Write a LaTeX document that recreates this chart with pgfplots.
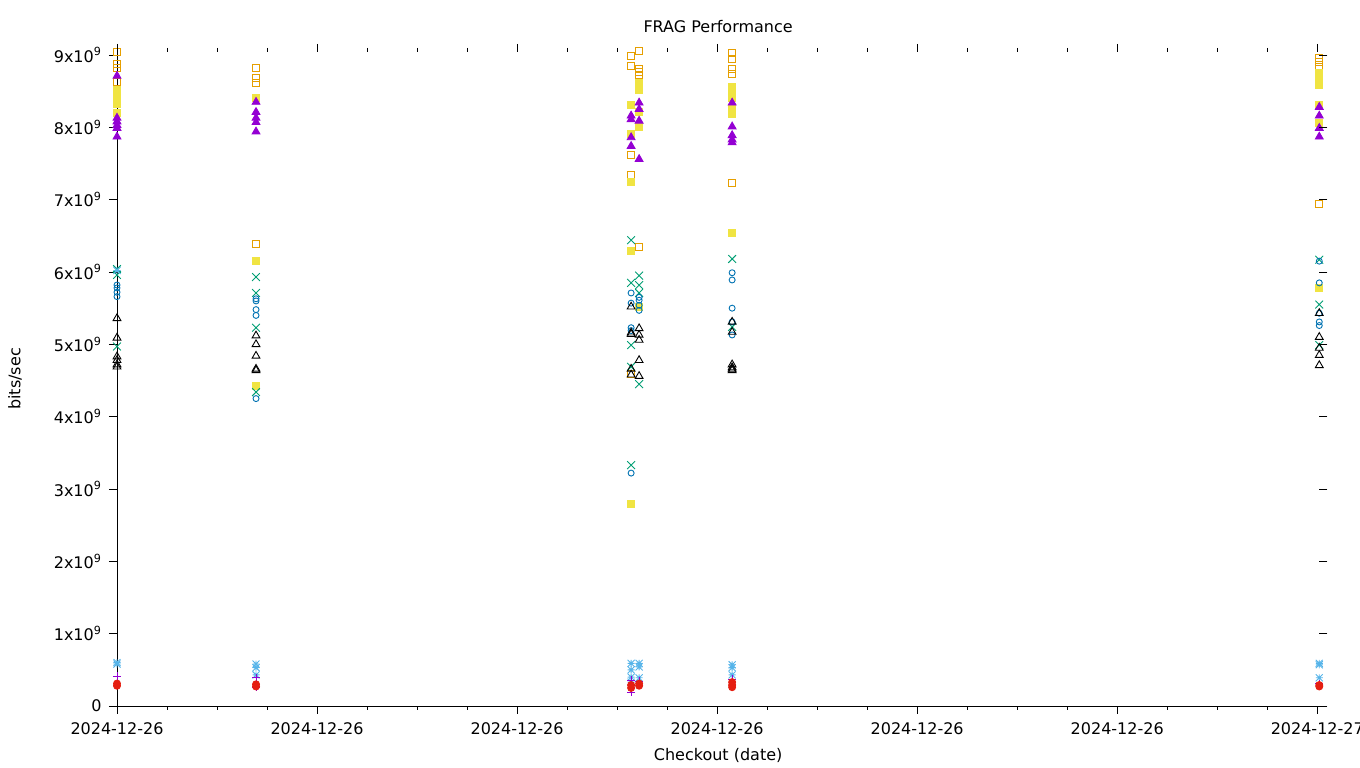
\documentclass[border=0pt]{standalone}
\usepackage{fontspec}
\setmainfont{DejaVu Sans}
\usepackage{pgfplots}
\pgfplotsset{compat=1.18}
\definecolor{gpPurple}{HTML}{9400D3}
\definecolor{gpGreen}{HTML}{009E73}
\definecolor{gpLBlue}{HTML}{56B4E9}
\definecolor{gpOrange}{HTML}{E69F00}
\definecolor{gpYellow}{HTML}{F0E442}
\definecolor{gpDBlue}{HTML}{0072B2}
\definecolor{gpRed}{HTML}{E51E10}
\pgfdeclareplotmark{gpstar}{%
 \pgfpathmoveto{\pgfqpoint{-\pgfplotmarksize}{0pt}}\pgfpathlineto{\pgfqpoint{\pgfplotmarksize}{0pt}}%
 \pgfpathmoveto{\pgfqpoint{0pt}{-\pgfplotmarksize}}\pgfpathlineto{\pgfqpoint{0pt}{\pgfplotmarksize}}%
 \pgfpathmoveto{\pgfqpoint{-\pgfplotmarksize}{-\pgfplotmarksize}}\pgfpathlineto{\pgfqpoint{\pgfplotmarksize}{\pgfplotmarksize}}%
 \pgfpathmoveto{\pgfqpoint{-\pgfplotmarksize}{\pgfplotmarksize}}\pgfpathlineto{\pgfqpoint{\pgfplotmarksize}{-\pgfplotmarksize}}%
 \pgfusepathqstroke}
\begin{document}
\begin{tikzpicture}[x=1pt,y=1pt,font=\fontsize{16}{19}\selectfont]
\begin{axis}[
  at={(117pt,62pt)}, anchor=south west, width=1202pt, height=654pt, scale only axis,
  xmin=0, xmax=24.04, ymin=0, ymax=9.042,
  axis x line*=bottom, axis y line*=left,
  axis line style={black, line width=0.8pt},
  every tick/.style={black, line width=0.8pt},
  tick align=outside, major tick length=8pt, minor tick length=4pt,
  xtick={0,4,8,12,16,20,24}, minor x tick num=3,
  xticklabels={2024-12-26,2024-12-26,2024-12-26,2024-12-26,2024-12-26,2024-12-26,2024-12-27},
  xticklabel style={yshift=-5pt},
  ytick={0,1,2,3,4,5,6,7,8,9},
  yticklabels={0,1x10\textsuperscript{9},2x10\textsuperscript{9},3x10\textsuperscript{9},4x10\textsuperscript{9},5x10\textsuperscript{9},6x10\textsuperscript{9},7x10\textsuperscript{9},8x10\textsuperscript{9},9x10\textsuperscript{9}},
  yticklabel style={xshift=-4pt},
  clip=false,
  title={FRAG Performance},
  title style={at={(axis description cs:0.5,1)}, anchor=center, yshift=19pt},
  xlabel={Checkout (date)},
  xlabel style={at={(axis description cs:0.5,0)}, anchor=center, yshift=-49pt},
  ylabel={bits/sec},
  ylabel style={at={(axis description cs:-0.08486,0.5)}, anchor=center},
  every axis plot/.append style={only marks, line width=0.9pt},
]
% orange open squares
\addplot[mark=square, mark size=3.5pt, gpOrange] coordinates {
(0,9.04)(0,8.87)(0,8.82)(0,8.63)
(2.78,8.82)(2.78,8.68)(2.78,8.61)(2.78,6.39)
(10.28,8.99)(10.28,8.85)(10.28,7.62)(10.28,7.34)(10.28,4.59)
(10.44,9.06)(10.44,8.81)(10.44,8.76)(10.44,8.72)(10.44,6.35)
(12.30,9.03)(12.30,8.95)(12.30,8.81)(12.30,8.74)(12.30,7.23)
(24.04,8.96)(24.04,8.91)(24.04,8.84)(24.04,6.94)};
% yellow filled squares
\addplot[mark=square*, mark size=3.5pt, gpYellow, mark options={fill=gpYellow, draw=gpYellow}] coordinates {
(0,8.52)(0,8.46)(0,8.40)(0,8.33)(0,8.20)
(2.78,8.41)(2.78,6.15)(2.78,4.42)
(10.28,8.31)(10.28,7.91)(10.28,7.24)(10.28,6.29)(10.28,2.79)
(10.44,8.61)(10.44,8.52)(10.44,8.21)(10.44,8.01)(10.44,5.52)
(12.30,8.56)(12.30,8.48)(12.30,8.41)(12.30,8.27)(12.30,8.19)(12.30,6.54)
(24.04,8.75)(24.04,8.65)(24.04,8.58)(24.04,8.31)(24.04,8.06)(24.04,5.78)};
% purple filled triangles
\addplot[mark=triangle*, mark size=4.5pt, gpPurple, mark options={fill=gpPurple, draw=gpPurple}] coordinates {
(0,8.71)(0,8.13)(0,8.08)(0,8.03)(0,7.99)(0,7.87)
(2.78,8.35)(2.78,8.21)(2.78,8.13)(2.78,8.07)(2.78,7.94)
(10.28,8.16)(10.28,8.11)(10.28,7.86)(10.28,7.74)
(10.44,8.34)(10.44,8.25)(10.44,8.09)(10.44,7.56)
(12.30,8.34)(12.30,8.01)(12.30,7.89)(12.30,7.83)(12.30,7.79)
(24.04,8.28)(24.04,8.16)(24.04,7.99)(24.04,7.87)};
% green x
\addplot[mark=x, mark size=5.5pt, gpGreen] coordinates {
(0,6.04)(0,5.96)(0,4.97)
(2.78,5.93)(2.78,5.71)(2.78,5.23)(2.78,4.34)
(10.28,6.44)(10.28,5.85)(10.28,4.99)(10.28,4.69)(10.28,3.33)
(10.44,5.95)(10.44,5.82)(10.44,5.71)(10.44,4.45)
(12.30,6.18)(12.30,5.24)
(24.04,6.17)(24.04,5.55)(24.04,4.99)};
% dark blue open circles
\addplot[mark=o, mark size=3pt, gpDBlue] coordinates {
(0,5.82)(0,5.78)(0,5.72)(0,5.66)
(2.78,5.63)(2.78,5.60)(2.78,5.48)(2.78,5.40)(2.78,4.25)
(10.28,5.71)(10.28,5.57)(10.28,5.23)(10.28,5.19)(10.28,3.22)
(10.44,5.65)(10.44,5.61)(10.44,5.54)(10.44,5.47)
(12.30,5.99)(12.30,5.89)(12.30,5.50)(12.30,5.31)(12.30,5.13)
(24.04,6.15)(24.04,5.85)(24.04,5.43)(24.04,5.31)(24.04,5.26)};
% black open triangles
\addplot[mark=triangle, mark size=4.5pt, black] coordinates {
(0,5.36)(0,5.09)(0,4.83)(0,4.78)(0,4.72)(0,4.69)
(2.78,5.12)(2.78,5.00)(2.78,4.84)(2.78,4.66)(2.78,4.64)
(10.28,5.52)(10.28,5.16)(10.28,5.14)(10.28,4.66)(10.28,4.58)
(10.44,5.22)(10.44,5.13)(10.44,5.06)(10.44,4.78)(10.44,4.56)
(12.30,5.31)(12.30,5.17)(12.30,4.72)(12.30,4.68)(12.30,4.66)(12.30,4.64)
(24.04,5.43)(24.04,5.10)(24.04,4.95)(24.04,4.85)(24.04,4.71)};
% light blue stars
\addplot[mark=gpstar, mark size=3.5pt, gpLBlue] coordinates {
(0,6.02)(0,0.60)(0,0.58)
(2.78,0.58)(2.78,0.53)(2.78,0.43)
(10.28,0.59)(10.28,0.50)(10.28,0.40)(10.28,0.33)
(10.44,0.59)(10.44,0.54)(10.44,0.39)
(12.30,0.57)(12.30,0.53)(12.30,0.43)
(24.04,0.59)(24.04,0.57)(24.04,0.39)};
% purple plus
\addplot[mark=+, mark size=4pt, gpPurple] coordinates {
(0,0.41)(2.78,0.39)(2.78,0.26)(10.28,0.19)(10.28,0.36)(10.44,0.34)(12.30,0.37)(24.04,0.31)};
% red filled circles
\addplot[mark=*, mark size=3.5pt, gpRed, mark options={fill=gpRed, draw=gpRed}] coordinates {
(0,0.31)(0,0.28)(2.78,0.30)(2.78,0.27)(10.28,0.29)(10.28,0.25)(10.44,0.31)(10.44,0.28)(12.30,0.33)(12.30,0.29)(12.30,0.26)(24.04,0.29)(24.04,0.27)};
\end{axis}
\begin{axis}[
  at={(117pt,62pt)}, anchor=south west, width=1202pt, height=654pt, scale only axis,
  xmin=0, xmax=24.04, ymin=0, ymax=9.042,
  axis x line*=top, axis y line*=right,
  axis line style={draw=none},
  every tick/.style={black, line width=0.8pt},
  tick align=outside, major tick length=8pt, minor tick length=4pt,
  xtick={0,4,8,12,16,20,24}, minor x tick num=3,
  ytick={0,1,2,3,4,5,6,7,8,9},
  xticklabels={,,,,,,}, yticklabels={,,,,,,,,,},
]
\end{axis}
\pgfresetboundingbox
\useasboundingbox (0pt,0pt) rectangle (1360pt,768pt);
\end{tikzpicture}
\end{document}
